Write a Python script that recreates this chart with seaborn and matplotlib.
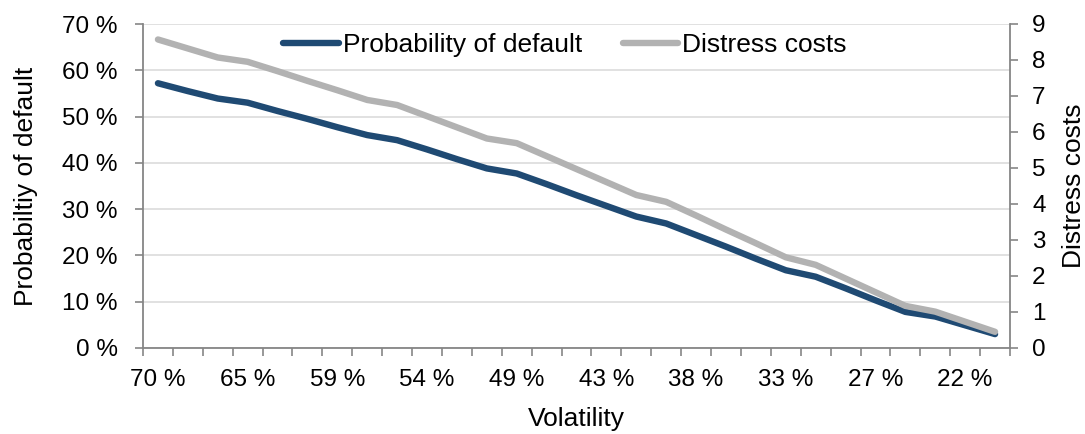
import matplotlib
matplotlib.use("Agg")
import matplotlib.pyplot as plt
import seaborn as sns
import pandas as pd
import numpy as np
from matplotlib.ticker import FixedLocator, FuncFormatter

volatility = [70.0, 68.2, 66.4, 64.6, 62.9, 61.1, 59.3, 57.5, 55.7, 53.9,
              52.1, 50.4, 48.6, 46.8, 45.0, 43.2, 41.4, 39.6, 37.9, 36.1,
              34.3, 32.6, 30.7, 28.9, 27.1, 25.4, 23.6, 21.8, 20.0]
prob_default = [57.2, 55.5, 53.9, 53.0, 51.2, 49.5, 47.7, 46.0, 44.9, 42.9,
                40.8, 38.8, 37.7, 35.4, 33.0, 30.7, 28.4, 26.9, 24.4, 21.9,
                19.3, 16.8, 15.4, 12.9, 10.3, 7.8, 6.8, 4.9, 3.0]
distress_costs = [8.57, 8.32, 8.07, 7.95, 7.69, 7.42, 7.16, 6.89, 6.75, 6.44,
                  6.13, 5.82, 5.69, 5.33, 4.97, 4.61, 4.25, 4.06, 3.68, 3.29,
                  2.91, 2.52, 2.31, 1.93, 1.55, 1.17, 1.01, 0.73, 0.45]
left_ticks = [0, 10, 20, 30, 40, 50, 60, 70]
right_ticks = [0, 1, 2, 3, 4, 5, 6, 7, 8, 9]

sns.set_theme(style="white")
plt.rcParams['font.family'] = ['Liberation Sans', 'DejaVu Sans']
plt.rcParams['text.color'] = 'black'
plt.rcParams['axes.labelcolor'] = 'black'
plt.rcParams['xtick.labelcolor'] = 'black'
plt.rcParams['ytick.labelcolor'] = 'black'

df = pd.DataFrame({
    "idx": np.arange(len(volatility)),
    "vol": volatility,
    "pd": prob_default,
    "dc": distress_costs,
})

BLUE = "#1F4A73"
GREY = "#B2B2B2"
AXC = "#868686"
FS = 17.5
FL = 19

fig = plt.figure(figsize=(10.85, 4.34), dpi=100)
ax = fig.add_axes([143/1085, 1-348/434, (1010-143)/1085, (348-24)/434])
ax2 = ax.twinx()

sns.lineplot(data=df, x="idx", y="pd", ax=ax, color=BLUE, linewidth=4.6,
             solid_capstyle="round", label="Probability of default", legend=False)
sns.lineplot(data=df, x="idx", y="dc", ax=ax2, color=GREY, linewidth=4.6,
             solid_capstyle="round", label="Distress costs", legend=False)

n = len(volatility)
ax.set_xlim(-0.5, n - 0.5)
ax.set_ylim(0, 70)
ax2.set_ylim(0, 9)

ax.set_yticks(left_ticks)
ax.yaxis.set_major_formatter(FuncFormatter(lambda v, p: f"{int(v)} %"))
ax2.set_yticks(right_ticks)
ax2.set_yticklabels([str(t) for t in right_ticks])

major = list(range(0, n, 3))
ax.xaxis.set_major_locator(FixedLocator(major))
ax.set_xticklabels([f"{volatility[i]:.0f} %" for i in major])
ax.xaxis.set_minor_locator(FixedLocator(np.arange(-0.5, n, 1.0)))

ax.grid(axis="y", color="#D9D9D9", linewidth=1.1)
ax.grid(axis="x", visible=False)
ax2.grid(False)
ax.set_axisbelow(True)

for a in (ax, ax2):
    for s in a.spines.values():
        s.set_visible(False)
ax.spines["left"].set_visible(True)
ax.spines["bottom"].set_visible(True)
ax2.spines["right"].set_visible(True)
for s in (ax.spines["left"], ax.spines["bottom"], ax2.spines["right"]):
    s.set_color(AXC)
    s.set_linewidth(1.3)

ax.tick_params(axis="y", which="major", direction="out", length=6, width=1.2,
               color=AXC, labelsize=FS, pad=12, left=True)
ax.tick_params(axis="x", which="major", length=0, labelsize=FS, pad=15, bottom=True)
ax.tick_params(axis="x", which="minor", direction="out", length=6, width=1.2,
               color=AXC, bottom=True)
ax2.tick_params(axis="y", direction="out", length=6, width=1.2, color=AXC,
                labelsize=FS, pad=10, right=True)

ax.set_xlabel("Volatility", fontsize=FL)
ax.set_ylabel("Probabiltiy of default", fontsize=FL)
ax2.set_ylabel("Distress costs", fontsize=FL)
ax.xaxis.set_label_coords(0.5, (348-407)/324)
ax.yaxis.set_label_coords((38-143)/867, 0.5)
ax2.yaxis.set_label_coords((1062-143)/867, 0.5)

h1, l1 = ax.get_legend_handles_labels()
h2, l2 = ax2.get_legend_handles_labels()
fig.legend(h1 + h2, l1 + l2, loc="center", bbox_to_anchor=(565/1085, 1-45/434),
           ncol=2, frameon=False, fontsize=FL, handlelength=2.1,
           handletextpad=0.15, columnspacing=1.55)

fig.savefig("out.png", dpi=100)
